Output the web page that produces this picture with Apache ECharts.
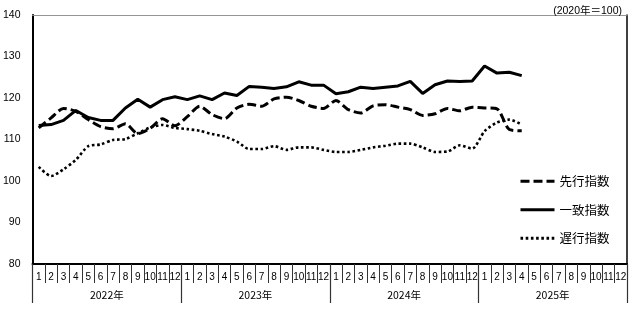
<!DOCTYPE html>
<html>
<head>
<meta charset="utf-8">
<script src="https://cdn.jsdelivr.net/npm/echarts@6/dist/echarts.min.js"></script>
<style>
  html, body { margin: 0; padding: 0; background: #fff; }
  #chart { width: 635px; height: 325px; }
</style>
</head>
<body>
<div id="chart"></div>
<script>
// Year groups and month labels along the bottom axis
const years = ['2022年', '2023年', '2024年', '2025年'];
const months = ['1', '2', '3', '4', '5', '6', '7', '8', '9', '10', '11', '12'];

// Composite indexes (2020 = 100), Jan 2022 – Apr 2025
const leading = [
  112.8, 115.2, 117.5, 116.8, 114.8, 113.1, 112.6, 113.8, 111.4, 112.7, 115.0, 113.3,
  115.5, 118.0, 116.0, 115.0, 117.6, 118.5, 118.0, 119.8, 120.2, 119.4, 118.0, 117.5,
  119.4, 117.2, 116.4, 118.1, 118.4, 117.8, 117.2, 115.8, 116.2, 117.5, 116.9, 117.8,
  117.6, 117.4, 112.4, 112.1
];
const coincident = [
  113.4, 113.6, 114.6, 117.0, 115.3, 114.6, 114.6, 117.6, 119.7, 117.8, 119.6, 120.3,
  119.6, 120.5, 119.6, 121.2, 120.6, 122.8, 122.6, 122.3, 122.7, 123.9, 123.1, 123.1,
  121.0, 121.5, 122.6, 122.3, 122.6, 122.9, 124.0, 121.1, 123.2, 124.1, 124.0, 124.1,
  127.7, 126.0, 126.2, 125.4
];
const lagging = [
  103.4, 101.2, 102.8, 105.1, 108.4, 108.8, 109.9, 110.1, 111.5, 112.9, 113.5, 112.8,
  112.5, 112.1, 111.3, 110.7, 109.5, 107.7, 107.7, 108.4, 107.5, 108.1, 108.1, 107.5,
  107.0, 107.0, 107.5, 108.1, 108.5, 109.0, 109.0, 108.1, 107.0, 107.1, 108.6, 107.8,
  112.0, 114.1, 114.8, 113.6
];

// One category per month across all year groups
const monthCats = [];
years.forEach(function () { months.forEach(function (m) { monthCats.push(m); }); });

const numFont = "'Liberation Sans', Arial, 'Noto Sans CJK JP', sans-serif";
const jpFont = "'Noto Sans CJK JP', 'Liberation Sans', sans-serif";

const chart = echarts.init(document.getElementById('chart'), null, { renderer: 'canvas' });

chart.setOption({
  backgroundColor: '#ffffff',
  animation: false,
  title: {
    text: '(2020年＝100)',
    right: 8,
    top: 1,
    textStyle: { fontSize: 10.5, fontWeight: 'normal', color: '#000', fontFamily: numFont }
  },
  grid: { left: 29, right: 8, top: 15, bottom: 61, containLabel: false },
  legend: {
    orient: 'vertical',
    left: 519,
    top: 175,
    padding: 0,
    itemWidth: 34,
    itemHeight: 14,
    itemGap: 16,
    // show only the line sample, no marker in the middle
    itemStyle: { opacity: 0 },
    lineStyle: { width: 3 },
    data: ['先行指数', '一致指数', '遅行指数'],
    textStyle: { fontSize: 12.5, color: '#000', fontFamily: jpFont }
  },
  xAxis: [
    {
      type: 'category',
      data: monthCats,
      position: 'bottom',
      boundaryGap: true,
      axisLine: { show: true, lineStyle: { color: '#000', width: 2 } },
      axisTick: { show: true, inside: false, length: 19, interval: 0, lineStyle: { color: '#333', width: 1 } },
      axisLabel: { interval: 0, margin: 8, fontSize: 10, color: '#000', fontFamily: numFont },
      splitLine: { show: false }
    },
    {
      type: 'category',
      data: years,
      position: 'bottom',
      boundaryGap: true,
      axisLine: { show: false },
      axisTick: { show: true, inside: false, length: 39, lineStyle: { color: '#333', width: 1.2 } },
      axisLabel: { margin: 26, fontSize: 10.5, color: '#000', fontFamily: jpFont },
      splitLine: { show: false }
    },
    {
      type: 'category',
      data: monthCats,
      position: 'top',
      axisLine: { show: true, lineStyle: { color: '#888', width: 1, type: [1, 1] } },
      axisTick: { show: false },
      axisLabel: { show: false },
      splitLine: { show: false }
    }
  ],
  yAxis: [
    {
      type: 'value',
      min: 80,
      max: 140,
      interval: 10,
      axisLine: { show: true, lineStyle: { color: '#000', width: 2 } },
      axisTick: { show: false },
      axisLabel: { margin: 12, fontSize: 10.5, color: '#000', fontFamily: numFont },
      splitLine: { show: false }
    },
    {
      type: 'value',
      min: 80,
      max: 140,
      interval: 10,
      position: 'right',
      axisLine: { show: true, lineStyle: { color: '#000', width: 1.5 } },
      axisTick: { show: false },
      axisLabel: { show: false },
      splitLine: { show: false }
    }
  ],
  series: [
    {
      name: '先行指数',
      type: 'line',
      data: leading,
      symbol: 'none',
      smooth: 0.25,
      lineStyle: { color: '#000', width: 3, type: [9, 4] },
      itemStyle: { color: '#000' },
      z: 3
    },
    {
      name: '一致指数',
      type: 'line',
      data: coincident,
      symbol: 'none',
      lineStyle: { color: '#000', width: 3, type: 'solid' },
      itemStyle: { color: '#000' },
      z: 4
    },
    {
      name: '遅行指数',
      type: 'line',
      data: lagging,
      symbol: 'none',
      smooth: 0.25,
      lineStyle: { color: '#000', width: 2.6, type: [2.6, 2.6] },
      itemStyle: { color: '#000' },
      z: 2
    }
  ]
});
</script>
</body>
</html>
